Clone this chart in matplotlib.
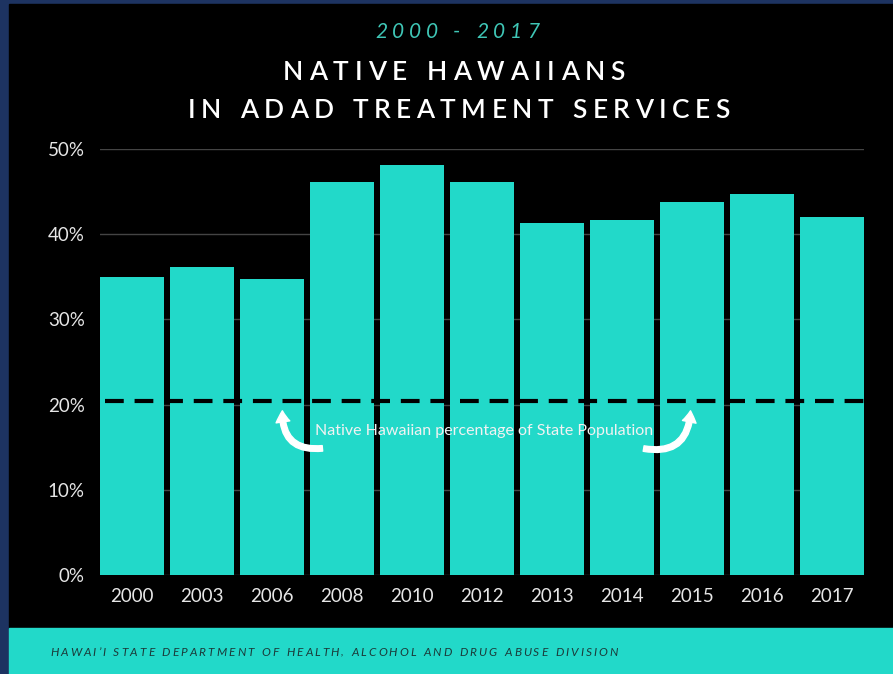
import matplotlib
matplotlib.use("Agg")
import matplotlib.pyplot as plt
from matplotlib.patches import Rectangle, FancyArrowPatch

years = ["2000", "2003", "2006", "2008", "2010", "2012", "2013", "2014", "2015", "2016", "2017"]
pct = [35.0, 36.2, 34.7, 46.1, 48.1, 46.1, 41.3, 41.7, 43.8, 44.7, 42.0]
state_pop_pct = 20.4
yticks = [0, 10, 20, 30, 40, 50]
ytick_labels = ["0%", "10%", "20%", "30%", "40%", "50%"]

TEAL = "#22d9c9"
W, H = 893, 674
fig = plt.figure(figsize=(W / 100, H / 100), dpi=100)
fig.patch.set_facecolor("#1d3361")
renderer = fig.canvas.get_renderer()

def px(x0, y0, x1, y1):
    return (x0 / W, 1 - y1 / H, (x1 - x0) / W, (y1 - y0) / H)

def tracked(s, xc, yc, width, ha="center", **kw):
    """Draw text s with letter spacing so it spans `width` pixels."""
    ws = []
    for ch in s:
        t = fig.text(0, 0, ch if ch != " " else "n", **kw)
        bb = t.get_window_extent(renderer)
        t.remove()
        ws.append(bb.width * (0.55 if ch == " " else 1.0))
    gap = (width - sum(ws)) / (len(s) - 1)
    x0 = xc - width / 2 if ha == "center" else xc
    for ch, wch in zip(s, ws):
        if ch != " ":
            fig.text(x0 / W, 1 - yc / H, ch, ha="left", va="center", **kw)
        x0 += wch + gap

# black panel and teal footer
l, b, w, h = px(9, 4, 893, 628)
fig.patches.append(Rectangle((l, b), w, h, transform=fig.transFigure, color="black", zorder=-5))
l, b, w, h = px(9, 628, 893, 674)
fig.patches.append(Rectangle((l, b), w, h, transform=fig.transFigure, color=TEAL, zorder=-5))

tracked("2000 - 2017", 457, 32, 164, color="#3fc6b6", fontsize=15, style="italic", family="Lato")
tracked("NATIVE HAWAIIANS", 454, 72, 342, color="white", fontsize=19, weight="semibold", family="Lato")
tracked("IN ADAD TREATMENT SERVICES", 459, 110, 542, color="white", fontsize=19, weight="semibold", family="Lato")
tracked("HAWAI\u2019I STATE DEPARTMENT OF HEALTH, ALCOHOL AND DRUG ABUSE DIVISION", 50, 652, 568,
        ha="left", color="#1b3b3a", fontsize=8.6, style="italic", family="Lato")

ax = fig.add_axes(px(100, 149, 864, 575))
ax.set_zorder(2)
ax.set_facecolor("none")
x = list(range(len(years)))
ax.bar(x, pct, width=0.914, color=TEAL, zorder=2)
ax.set_xlim(-0.457, len(years) - 1 + 0.457)
ax.set_ylim(0, 50)
ax.set_yticks(yticks)
ax.set_yticklabels(ytick_labels)
ax.set_xticks(x)
ax.set_xticklabels(years)
ax.tick_params(axis="both", length=0, colors="#e6e6e6", labelsize=13.5)
for lab in ax.get_xticklabels() + ax.get_yticklabels():
    lab.set_family("Lato")
ax.tick_params(axis="y", pad=11)
ax.tick_params(axis="x", pad=9)
ax.grid(axis="y", color="#444444", linewidth=1, zorder=1)
ax.set_axisbelow(True)
for s in ax.spines.values():
    s.set_visible(False)

ax.axhline(state_pop_pct, xmin=0.006, xmax=1.0, color="black", linewidth=3,
           dashes=(4.5, 2.6), zorder=3)
ax.text(5.03, 16.9, "Native Hawaiian percentage of State Population", ha="center", va="center",
        color="#f2f2f2", fontsize=11.5, family="Lato", zorder=4)
a1 = FancyArrowPatch((2.76, 14.9), (2.15, 19.6), connectionstyle="arc3,rad=-0.6",
                     arrowstyle="simple,head_width=10,head_length=8,tail_width=4",
                     color="white", zorder=4)
a2 = FancyArrowPatch((7.27, 14.9), (7.98, 19.6), connectionstyle="arc3,rad=0.6",
                     arrowstyle="simple,head_width=10,head_length=8,tail_width=4",
                     color="white", zorder=4)
ax.add_patch(a1)
ax.add_patch(a2)

fig.savefig("out.png", dpi=100, facecolor=fig.get_facecolor())
